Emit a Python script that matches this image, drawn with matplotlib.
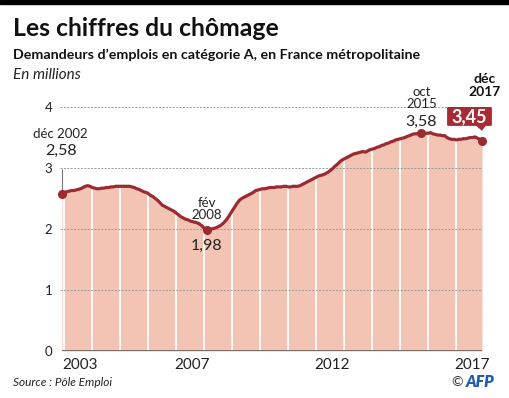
import numpy as np
import matplotlib.pyplot as plt
from matplotlib.patches import FancyBboxPatch, Polygon

# Demandeurs d'emploi cat. A, France metropolitaine (millions), dec 2002 -> dec 2017
start_value = [2.58]  # dec 2002
values_by_year = {
    2003: [2.60, 2.61, 2.62, 2.63, 2.63, 2.64, 2.65, 2.66, 2.68, 2.70, 2.71, 2.70],
    2004: [2.68, 2.67, 2.66, 2.66, 2.67, 2.67, 2.68, 2.68, 2.69, 2.69, 2.70, 2.70],
    2005: [2.70, 2.70, 2.70, 2.70, 2.70, 2.69, 2.68, 2.66, 2.65, 2.63, 2.61, 2.60],
    2006: [2.58, 2.55, 2.53, 2.50, 2.47, 2.43, 2.39, 2.37, 2.35, 2.33, 2.31, 2.29],
    2007: [2.26, 2.23, 2.20, 2.18, 2.16, 2.15, 2.13, 2.12, 2.11, 2.10, 2.08, 2.05],
    2008: [2.01, 1.98, 1.99, 2.00, 2.01, 2.02, 2.04, 2.06, 2.09, 2.13, 2.18, 2.24],
    2009: [2.30, 2.36, 2.42, 2.47, 2.50, 2.52, 2.54, 2.56, 2.58, 2.60, 2.63, 2.64],
    2010: [2.65, 2.66, 2.66, 2.67, 2.68, 2.68, 2.68, 2.69, 2.69, 2.69, 2.70, 2.70],
    2011: [2.69, 2.69, 2.70, 2.70, 2.70, 2.71, 2.73, 2.75, 2.77, 2.79, 2.81, 2.83],
    2012: [2.85, 2.87, 2.88, 2.89, 2.91, 2.93, 2.96, 2.99, 3.03, 3.06, 3.10, 3.13],
    2013: [3.15, 3.17, 3.19, 3.21, 3.23, 3.24, 3.25, 3.26, 3.27, 3.26, 3.28, 3.30],
    2014: [3.31, 3.32, 3.34, 3.35, 3.37, 3.38, 3.40, 3.41, 3.43, 3.44, 3.46, 3.47],
    2015: [3.48, 3.49, 3.50, 3.52, 3.53, 3.55, 3.56, 3.56, 3.57, 3.58, 3.58, 3.57],
    2016: [3.57, 3.58, 3.56, 3.55, 3.54, 3.54, 3.53, 3.53, 3.50, 3.48, 3.47, 3.47],
    2017: [3.46, 3.47, 3.47, 3.48, 3.48, 3.49, 3.50, 3.50, 3.51, 3.49, 3.47, 3.45],
}
# annotated points: (year, month, date label, value label)
highlights = [
    (2002, 12, "déc 2002", "2,58"),
    (2008, 2, "fév\n2008", "1,98"),
    (2015, 10, "oct\n2015", "3,58"),
    (2017, 12, "déc\n2017", "3,45"),
]
xtick_years = [2003, 2007, 2012, 2017]
ytick_vals = [0, 1, 2, 3, 4]

values = list(start_value)
for yr in sorted(values_by_year):
    values += values_by_year[yr]
values = np.array(values)
t = 2002 + 11 / 12 + np.arange(len(values)) / 12

def tpos(year, month):
    return year + (month - 1) / 12

W, H = 510, 398
LINE = "#9b2a31"
FILL = "#f3c4b4"
BOX = "#a72a34"
plt.rcParams['font.family'] = ['Lato', 'DejaVu Sans']

fig = plt.figure(figsize=(W / 100, H / 100), dpi=100)
fig.patches.append(plt.Rectangle((0, 1 - 4 / H), 1, 4 / H, transform=fig.transFigure,
                                 color="black", zorder=5))

ax = fig.add_axes([62 / W, 1 - 351 / H, (482 - 62) / W, (351 - 107) / H])
ax.set_xlim(t[0], t[-1])
ax.set_ylim(0, 4)

ax.fill_between(t, values, 0, color=FILL, lw=0, zorder=1)
for yr in range(2003, 2018):
    i = int(round((yr - t[0]) * 12))
    ax.vlines(yr, 0, values[i], color="white", lw=1.3, zorder=2)
for v in ytick_vals[1:]:
    ax.axhline(v, color="#999999", lw=0.7, ls=(0, (2, 1.5)), zorder=3,
               xmin=-0.005, clip_on=False)
ax.plot(t, values, color=LINE, lw=2.3, zorder=4, solid_capstyle="round")
ax.axhline(0, color="#6e5f5b", lw=2, zorder=4)

for yr, mo, lab, val in highlights:
    x = tpos(yr, mo)
    y = values[int(round((x - t[0]) * 12))]
    ax.plot(x, y, "o", color=LINE, ms=5.5, zorder=5, clip_on=False)

# labels
x0, y0 = tpos(2002, 12), values[0]
ax.vlines(x0, y0, 2.98, color="#777777", lw=0.8, zorder=4, clip_on=False)
ax.text(x0 - 0.05, 3.55, "déc 2002", ha="center", va="center", fontsize=9.5, color="#222222")
ax.text(x0 - 0.05, 3.28, "2,58", ha="center", va="center", fontsize=11.5, color="#222222")

x1 = tpos(2008, 2)
ax.text(x1, 2.32, "fév\n2008", ha="center", va="center", fontsize=9.5,
        color="#222222", linespacing=1.0)
ax.text(x1, 1.73, "1,98", ha="center", va="center", fontsize=11.5, color="#222222")

x2 = tpos(2015, 10)
ax.text(x2, 4.15, "oct\n2015", ha="center", va="center", fontsize=9.5,
        color="#222222", linespacing=1.05, clip_on=False)
ax.text(x2, 3.76, "3,58", ha="center", va="center", fontsize=11.5, color="#222222")

x3 = tpos(2017, 12)
ax.text(x3 + 0.1, 4.35, "déc\n2017", ha="center", va="center", fontsize=10,
        fontweight="bold", color="#111111", linespacing=1.05, clip_on=False)
bx0, bx1 = 2016.67, 2018.27
box = FancyBboxPatch((bx0, 3.69), bx1 - bx0, 0.31, boxstyle="round,pad=0,rounding_size=0.05",
                     fc=BOX, ec="none", zorder=6, clip_on=False, mutation_aspect=0.35)
ax.add_patch(box)
ax.add_patch(Polygon([[2017.68, 3.70], [2018.06, 3.70], [x3, 3.61]],
                     closed=True, fc=BOX, ec="none", zorder=6, clip_on=False))
ax.text((bx0 + bx1) / 2, 3.84, "3,45", ha="center", va="center", fontsize=13,
        fontweight="bold", color="white", zorder=7, clip_on=False)

ax.set_xticks([y + 0.55 for y in xtick_years])
ax.set_xticklabels([str(y) for y in xtick_years], fontsize=11, color="#222222")
ax.set_yticks(ytick_vals)
ax.set_yticklabels([str(v) for v in ytick_vals], fontsize=9.5, color="#222222")
ax.tick_params(length=0, pad=5)
ax.tick_params(axis="y", pad=7)
for s in ax.spines.values():
    s.set_visible(False)

fig.text(13 / W, 1 - 28 / H, "Les chiffres du chômage", fontsize=17.8, fontweight="bold",
         va="center", ha="left", color="#111111")
fig.text(13 / W, 1 - 55 / H, "Demandeurs d’emplois en catégorie A, en France métropolitaine",
         fontsize=10.3, fontweight="bold", va="center", ha="left", color="#111111")
fig.text(13 / W, 1 - 75 / H, "En millions", fontsize=11, style="italic",
         va="center", ha="left", color="#222222")
fig.text(13 / W, 1 - 383 / H, "Source : Pôle Emploi", fontsize=8.6, style="italic",
         va="center", ha="left", color="#222222")
fig.text(463 / W, 1 - 382 / H, "©", fontsize=10, va="center", ha="right", color="#333333")
fig.text(466 / W, 1 - 382 / H, "AFP", fontsize=11.5, fontweight="heavy", style="italic",
         va="center", ha="left", color="#1b5cb0")

fig.savefig("out.png", dpi=100)
